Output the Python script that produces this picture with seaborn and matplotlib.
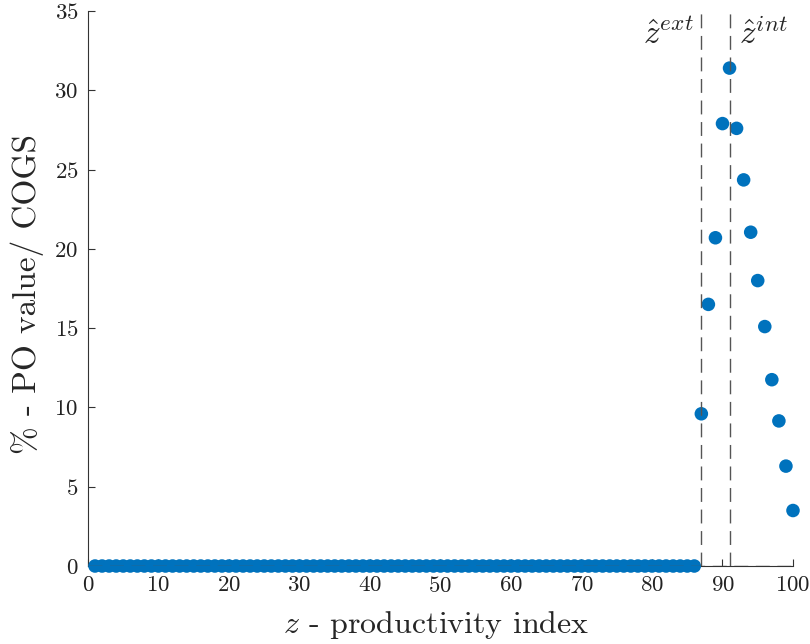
import numpy as np
import pandas as pd
import matplotlib
matplotlib.use("Agg")
import matplotlib.pyplot as plt
import seaborn as sns

# Data
z_index = list(range(1, 101))
po_values = [0.0] * 86 + [9.6, 16.5, 20.7, 27.9, 31.4, 27.6, 24.35, 21.05, 18.0, 15.1, 11.75, 9.15, 6.3, 3.5]
z_ext = 87
z_int = 91
x_ticks = list(range(0, 101, 10))
y_ticks = list(range(0, 36, 5))

sns.set_style("ticks")
plt.rcParams['font.family'] = ['serif']
plt.rcParams['font.serif'] = ['cmr10', 'DejaVu Serif']
plt.rcParams['mathtext.fontset'] = 'cm'
plt.rcParams['axes.formatter.use_mathtext'] = True
plt.rcParams['xtick.direction'] = 'in'
plt.rcParams['ytick.direction'] = 'in'

df = pd.DataFrame({"z": z_index, "v": po_values})

fig = plt.figure(figsize=(8.1, 6.44), dpi=100)
ax = fig.add_axes([0.1086, 0.1211, 0.9790 - 0.1086, 0.9829 - 0.1211])

sns.scatterplot(data=df, x="z", y="v", ax=ax, color="#0072BD", s=95,
                edgecolor="none", linewidth=0, clip_on=False, zorder=3)

dash_col = "#555555"
dash = (0, (10, 5.5))
ax.axvline(z_ext, color=dash_col, ls=dash, lw=1.0, zorder=4)
ax.axvline(z_int, color=dash_col, ls=dash, lw=1.0, zorder=4)
ax.axhline(0, color=dash_col, ls=dash, lw=1.0, zorder=4)

ax.text(86.0, 32.9, r"$\hat{z}^{ext}$", ha="right", va="baseline", fontsize=24)
ax.text(92.3, 32.9, r"$\hat{z}^{int}$", ha="left", va="baseline", fontsize=24)

ax.set_xlim(0, 100)
ax.set_ylim(0, 35)
ax.set_xticks(x_ticks)
ax.set_yticks(y_ticks)
ax.tick_params(labelsize=16.5, length=5, width=0.8, color="#333333", labelcolor="#222222")
ax.tick_params(axis="y", pad=7)
ax.tick_params(axis="x", pad=7)
for s in ["top", "right"]:
    ax.spines[s].set_visible(False)
for s in ["left", "bottom"]:
    ax.spines[s].set_color("#333333")
    ax.spines[s].set_linewidth(0.8)

ax.set_xlabel(r"$z$ - productivity index", fontsize=23)
ax.set_ylabel(r"% - PO value/ COGS", fontsize=24)
ax.xaxis.set_label_coords(0.494, -0.077, transform=ax.transAxes)
ax.yaxis.set_label_coords(-0.062, 0.49, transform=ax.transAxes)

fig.savefig("out.png", dpi=100)
